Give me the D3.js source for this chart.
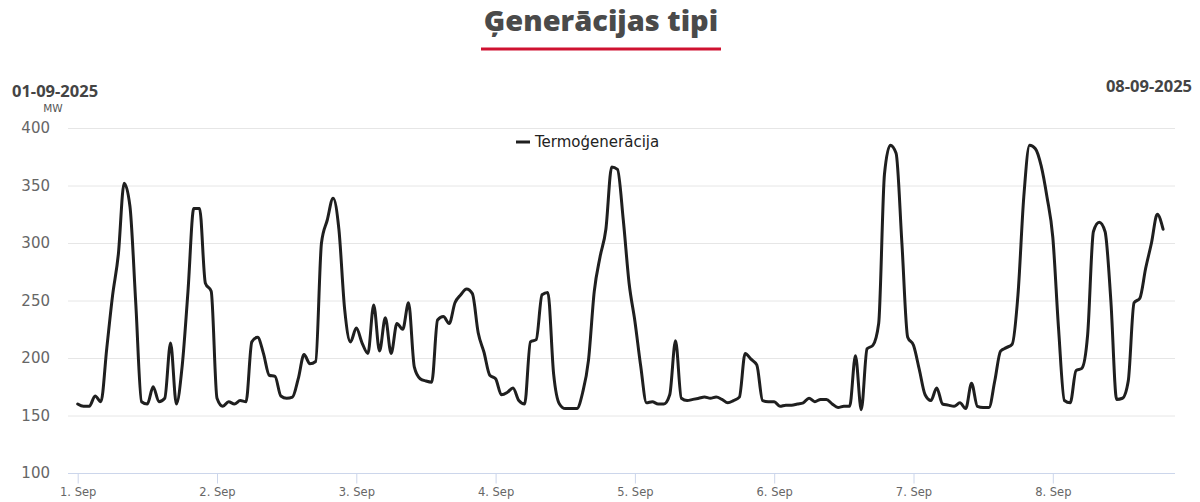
<!DOCTYPE html>
<html>
<head>
<meta charset="utf-8">
<script src="https://cdn.jsdelivr.net/npm/d3@7"></script>
<style>
  html, body { margin: 0; padding: 0; background: #fff; }
  svg { display: block; }
</style>
</head>
<body>
<div id="chart"></div>
<script>
// hourly values, 1 Sep 2025 00:00 onwards (MW)
const seriesName = 'Termoģenerācija';
const startDate = Date.UTC(2025, 8, 1);
const values = [
  160, 158, 158, 167, 162, 208, 254, 290, 352, 332, 248, 162, 160, 175, 162, 165, 213, 160, 193, 258, 330, 330, 265, 258,
  165, 158, 162, 160, 163, 162, 214, 218, 204, 185, 184, 167, 165, 166, 182, 203, 195, 197, 300, 320, 339, 312, 242, 214,
  226, 213, 204, 246, 206, 235, 204, 230, 225, 248, 192, 182, 180, 179, 233, 236, 230, 248, 255, 260, 256, 222, 205, 185,
  182, 168, 170, 174, 163, 160, 214, 216, 255, 257, 186, 160, 156, 156, 156, 170, 198, 258, 288, 312, 366, 364, 320, 265,
  232, 193, 161, 162, 160, 160, 168, 215, 165, 163, 164, 165, 166, 165, 166, 164, 161, 163, 166, 204, 199, 194, 163, 162,
  162, 158, 159, 159, 160, 161, 165, 162, 164, 164, 160, 157, 158, 158, 202, 155, 208, 211, 230, 360, 385, 378, 300, 218,
  211, 190, 168, 163, 174, 160, 159, 158, 161, 156, 178, 158, 157, 157, 180, 206, 209, 212, 255, 340, 385, 382, 367, 340,
  305, 225, 163, 161, 189, 191, 220, 310, 318, 310, 250, 164, 165, 180, 248, 252, 278, 300, 325, 312
];
const yTicks = [100, 150, 200, 250, 300, 350, 400];
const dayTicks = d3.range(0, 8).map(d => new Date(startDate + d * 864e5));
const chartTitle = 'Ģenerācijas tipi';
const leftDate = '01-09-2025';
const rightDate = '08-09-2025';
const unitLabel = 'MW';

const width = 1200;
const height = 502;
const plotLeft = 68;
const plotRight = 1175;
const headFont = '"Open Sans", Lato, sans-serif';
const bodyFont = '"DejaVu Sans", Verdana, sans-serif';

const data = values.map((v, i) => ({ date: new Date(startDate + i * 36e5), value: v }));

const svg = d3.select('#chart').append('svg')
  .attr('width', width)
  .attr('height', height);

const x = d3.scaleUtc()
  .domain([dayTicks[0], dayTicks[7]])
  .range([77.7, 1052.8]);

const y = d3.scaleLinear()
  .domain([100, 400])
  .range([473, 128]);

// title + red underline
svg.append('text')
  .attr('x', 601)
  .attr('y', 31)
  .attr('text-anchor', 'middle')
  .style('font-family', headFont)
  .style('font-weight', 800)
  .style('font-size', '29px')
  .attr('fill', '#4a4a4a')
  .text(chartTitle);

svg.append('rect')
  .attr('x', 481)
  .attr('y', 47.5)
  .attr('width', 240)
  .attr('height', 3)
  .attr('fill', '#cf1130');

svg.append('text')
  .attr('x', 12)
  .attr('y', 97)
  .style('font-family', headFont)
  .style('font-weight', 700)
  .style('font-size', '16.5px')
  .attr('fill', '#444')
  .text(leftDate);

svg.append('text')
  .attr('x', 1192)
  .attr('y', 92)
  .attr('text-anchor', 'end')
  .style('font-family', headFont)
  .style('font-weight', 700)
  .style('font-size', '16.5px')
  .attr('fill', '#444')
  .text(rightDate);

svg.append('text')
  .attr('x', 53)
  .attr('y', 112)
  .attr('text-anchor', 'middle')
  .style('font-family', bodyFont)
  .style('font-size', '10.5px')
  .attr('fill', '#555')
  .text(unitLabel);

// grid
svg.append('g')
  .selectAll('line')
  .data(yTicks.slice(1))
  .join('line')
    .attr('x1', plotLeft)
    .attr('x2', plotRight)
    .attr('y1', d => y(d) + 0.5)
    .attr('y2', d => y(d) + 0.5)
    .attr('stroke', '#e6e6e6')
    .attr('stroke-width', 1);

// y labels
svg.append('g')
  .selectAll('text')
  .data(yTicks)
  .join('text')
    .attr('x', 50)
    .attr('y', d => y(d) + 5)
    .attr('text-anchor', 'end')
    .style('font-family', bodyFont)
    .style('font-size', '15px')
    .attr('fill', '#666')
    .text(d => d);

// x axis
const xAxis = g => g
  .attr('transform', `translate(0,${y(100) + 0.5})`)
  .call(d3.axisBottom(x)
    .tickValues(dayTicks)
    .tickSize(10)
    .tickPadding(4)
    .tickFormat(d => `${d.getUTCDate()}. Sep`))
  .call(g => g.select('.domain').remove())
  .call(g => g.selectAll('.tick line').attr('stroke', '#ccd6eb'))
  .call(g => g.selectAll('.tick text')
    .attr('fill', '#666')
    .style('font-family', bodyFont)
    .style('font-size', '11.5px'));

svg.append('line')
  .attr('x1', plotLeft)
  .attr('x2', plotRight)
  .attr('y1', y(100) + 0.5)
  .attr('y2', y(100) + 0.5)
  .attr('stroke', '#ccd6eb');

svg.append('g').call(xAxis);

// series
const line = d3.line()
  .curve(d3.curveMonotoneX)
  .x(d => x(d.date))
  .y(d => y(d.value));

svg.append('path')
  .datum(data)
  .attr('fill', 'none')
  .attr('stroke', '#1f1f1f')
  .attr('stroke-width', 3)
  .attr('stroke-linejoin', 'round')
  .attr('stroke-linecap', 'round')
  .attr('d', line);

// legend
const legend = svg.append('g').attr('transform', 'translate(516,142)');
legend.append('line')
  .attr('x1', 0)
  .attr('x2', 14)
  .attr('stroke', '#1f1f1f')
  .attr('stroke-width', 3);
legend.append('text')
  .attr('x', 19)
  .attr('y', 5)
  .style('font-family', bodyFont)
  .style('font-size', '15px')
  .attr('fill', '#222')
  .text(seriesName);
</script>
</body>
</html>
